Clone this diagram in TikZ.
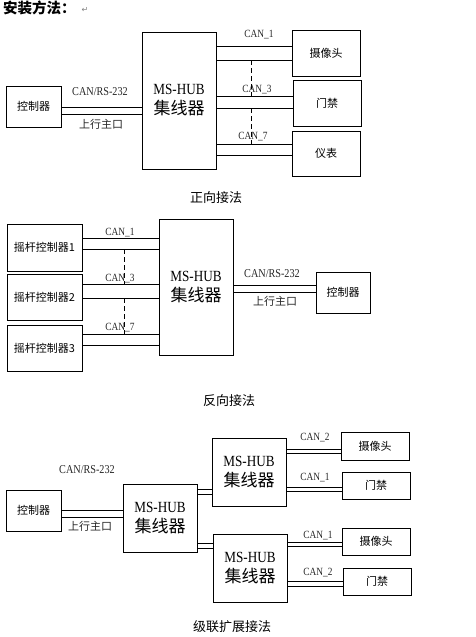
\documentclass[tikz,border=0pt]{standalone}
\usepackage{fontspec}
\setmainfont{Liberation Serif}[FakeStretch=0.85]
\newfontfamily\cjk{Noto Sans CJK SC}
\newfontfamily\symf{DejaVu Sans}
\begin{document}
\begin{tikzpicture}[x=1pt,y=-1pt,
  box/.style={draw, line width=0.9pt, inner sep=0pt, font=\cjk\fontsize{11}{13}\selectfont},
  hub/.style={box, minimum width=74pt, align=center, font=\fontsize{15.5}{19}\selectfont},
  wire/.style={line width=0.7pt},
  dashline/.style={line width=0.7pt, dash pattern=on 5pt off 3pt},
  lab/.style={inner sep=0pt, font=\fontsize{11}{12}\selectfont, text=black!85},
  rslab/.style={inner sep=0pt, font=\fontsize{12}{13}\selectfont, text=black!85},
  clab/.style={inner sep=0pt, font=\cjk\fontsize{11}{12}\selectfont, text=black!85},
  captext/.style={inner sep=0pt, font=\cjk\fontsize{13}{15}\selectfont}
]
\useasboundingbox (0,0) rectangle (475,637);
\newcommand{\hubtext}{MS-HUB\\[1pt]{\cjk\fontsize{17}{19}\selectfont 集线器}}

% title
\node[inner sep=0pt, anchor=west, font=\cjk\bfseries\fontsize{14.5}{16}\selectfont] (title) at (3,8) {安装方法：};
\node[inner sep=0pt, font=\symf\fontsize{8}{9}\selectfont, text=black!50] (ret) at (85,10) {↵};

% ===== Section 1 =====
\node[box, minimum width=55pt, minimum height=41pt] (ctrlA) at (33.5,106.5) {控制器};
\node[hub, minimum height=137pt] (hubA) at (179,100.5) {\hubtext};
\node[box, minimum width=68pt, minimum height=46pt] (camA) at (326,53) {摄像头};
\node[box, minimum width=68pt, minimum height=46pt] (doorA) at (327,103) {门禁};
\node[box, minimum width=68pt, minimum height=45pt] (meterA) at (326,153.5) {仪表};

\draw[wire] (ctrlA.east |- 0,107) -- (hubA.west |- 0,107);
\draw[wire] (ctrlA.east |- 0,114) -- (hubA.west |- 0,114);
\node[rslab] (lA1) at (100,92) {CAN/RS-232};
\node[clab] (lA2) at (101,124) {上行主口};

\draw[wire] (hubA.east |- 0,46) -- (camA.west |- 0,46);
\draw[wire] (hubA.east |- 0,60) -- (camA.west |- 0,60);
\draw[wire] (hubA.east |- 0,96) -- (doorA.west |- 0,96);
\draw[wire] (hubA.east |- 0,108) -- (doorA.west |- 0,108);
\draw[wire] (hubA.east |- 0,144) -- (meterA.west |- 0,144);
\draw[wire] (hubA.east |- 0,155) -- (meterA.west |- 0,155);
\node[lab] (cA1) at (259,35) {CAN\_1};
\node[lab] (cA3) at (257,90) {CAN\_3};
\node[lab] (cA7) at (253,137) {CAN\_7};
\coordinate (dA1) at (251,60); \coordinate (dA2) at (251,96);
\coordinate (dA3) at (251,108); \coordinate (dA4) at (251,144);
\draw[dashline] (dA1) -- (dA2);
\draw[dashline] (dA3) -- (dA4);
\node[captext] (capA) at (216,198) {正向接法};

% ===== Section 2 =====
\node[box, minimum width=75pt, minimum height=47pt] (j1) at (44.5,247.5) {摇杆控制器1};
\node[box, minimum width=75pt, minimum height=46pt] (j2) at (44.5,297) {摇杆控制器2};
\node[box, minimum width=75pt, minimum height=46pt] (j3) at (44.5,348) {摇杆控制器3};
\node[hub, minimum height=136pt] (hubB) at (196,287) {\hubtext};
\node[box, minimum width=54pt, minimum height=41pt] (ctrlB) at (343,292.5) {控制器};

\draw[wire] (j1.east |- 0,238) -- (hubB.west |- 0,238);
\draw[wire] (j1.east |- 0,249) -- (hubB.west |- 0,249);
\draw[wire] (j2.east |- 0,284) -- (hubB.west |- 0,284);
\draw[wire] (j2.east |- 0,298) -- (hubB.west |- 0,298);
\draw[wire] (j3.east |- 0,334) -- (hubB.west |- 0,334);
\draw[wire] (j3.east |- 0,345) -- (hubB.west |- 0,345);
\node[lab] (cB1) at (120,233) {CAN\_1};
\node[lab] (cB3) at (120,279) {CAN\_3};
\node[lab] (cB7) at (120,328) {CAN\_7};
\coordinate (dB1) at (124,249); \coordinate (dB2) at (124,284);
\coordinate (dB3) at (124,298); \coordinate (dB4) at (124,334);
\draw[dashline] (dB1) -- (dB2);
\draw[dashline] (dB3) -- (dB4);

\draw[wire] (hubB.east |- 0,285) -- (ctrlB.west |- 0,285);
\draw[wire] (hubB.east |- 0,292) -- (ctrlB.west |- 0,292);
\node[rslab] (lB1) at (272,274) {CAN/RS-232};
\node[clab] (lB2) at (275,301) {上行主口};
\node[captext] (capB) at (229,401) {反向接法};

% ===== Section 3 =====
\node[box, minimum width=55pt, minimum height=41pt] (ctrlC) at (33.5,510.5) {控制器};
\node[hub, minimum height=68pt] (hubC) at (160,518) {\hubtext};
\node[hub, minimum height=68pt] (hubD) at (249,472) {\hubtext};
\node[hub, minimum height=68pt] (hubE) at (250,568) {\hubtext};
\node[box, minimum width=68pt, minimum height=28pt] (camD) at (375,446) {摄像头};
\node[box, minimum width=68pt, minimum height=27pt] (doorD) at (376,485.5) {门禁};
\node[box, minimum width=68pt, minimum height=27pt] (camE) at (376,541.5) {摄像头};
\node[box, minimum width=68pt, minimum height=27pt] (doorE) at (377,581.5) {门禁};

\draw[wire] (ctrlC.east |- 0,510) -- (hubC.west |- 0,510);
\draw[wire] (ctrlC.east |- 0,517) -- (hubC.west |- 0,517);
\node[rslab] (lC1) at (87,470) {CAN/RS-232};
\node[clab] (lC2) at (90,526) {上行主口};

\draw[wire] (hubC.east |- 0,489) -- (hubD.west |- 0,489);
\draw[wire] (hubC.east |- 0,494) -- (hubD.west |- 0,494);
\draw[wire] (hubC.east |- 0,543) -- (hubE.west |- 0,543);
\draw[wire] (hubC.east |- 0,548) -- (hubE.west |- 0,548);

\draw[wire] (hubD.east |- 0,449) -- (camD.west |- 0,449);
\draw[wire] (hubD.east |- 0,453) -- (camD.west |- 0,453);
\draw[wire] (hubD.east |- 0,487) -- (doorD.west |- 0,487);
\draw[wire] (hubD.east |- 0,491) -- (doorD.west |- 0,491);
\draw[wire] (hubE.east |- 0,542) -- (camE.west |- 0,542);
\draw[wire] (hubE.east |- 0,546) -- (camE.west |- 0,546);
\draw[wire] (hubE.east |- 0,581) -- (doorE.west |- 0,581);
\draw[wire] (hubE.east |- 0,586) -- (doorE.west |- 0,586);
\node[lab] (cD2) at (315,438) {CAN\_2};
\node[lab] (cD1) at (315,478) {CAN\_1};
\node[lab] (cE1) at (318,536) {CAN\_1};
\node[lab] (cE2) at (318,573) {CAN\_2};
\node[captext] (capC) at (232,627) {级联扩展接法};
\end{tikzpicture}
\end{document}
